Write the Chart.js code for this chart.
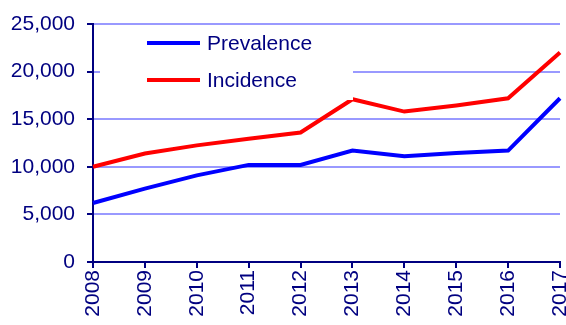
<!DOCTYPE html>
<html>
<head>
<meta charset="utf-8">
<script src="https://cdn.jsdelivr.net/npm/chart.js@4"></script>
<style>
  body { margin: 0; background: #fff; }
  #wrap { width: 566px; height: 325px; }
</style>
</head>
<body>
<div id="wrap"><canvas id="myChart" width="566" height="325"></canvas></div>
<script>
const years = ['2008', '2009', '2010', '2011', '2012', '2013', '2014', '2015', '2016', '2017'];
const prevalence = [6200, 7700, 9100, 10200, 10200, 11700, 11100, 11450, 11700, 17200];
const incidence = [10000, 11400, 12250, 12950, 13600, 17100, 15800, 16450, 17200, 22000];
const yTicks = [0, 5000, 10000, 15000, 20000, 25000];

const navy = '#000080';
const font = "'Liberation Sans', Arial, sans-serif";

// legend sits inside the plot with a white box, like the original
const boxLegend = {
    id: 'boxLegend',
    afterDatasetsDraw(chart) {
        const ctx = chart.ctx;
        const a = chart.chartArea;
        ctx.save();
        ctx.fillStyle = '#fff';
        ctx.fillRect(a.left + 7, a.top + 2, 253, 74);
        chart.data.datasets.forEach((ds, i) => {
            const y = a.top + 19 + i * 37;
            ctx.strokeStyle = ds.borderColor;
            ctx.lineWidth = 4;
            ctx.beginPath();
            ctx.moveTo(a.left + 54, y);
            ctx.lineTo(a.left + 107, y);
            ctx.stroke();
            ctx.fillStyle = navy;
            ctx.font = '21px ' + font;
            ctx.textBaseline = 'middle';
            ctx.fillText(ds.label, a.left + 114, y + 1);
        });
        ctx.restore();
    }
};

const ctx = document.getElementById('myChart').getContext('2d');
const myChart = new Chart(ctx, {
    type: 'line',
    data: {
        labels: years,
        datasets: [{
            label: 'Prevalence',
            data: prevalence,
            borderColor: '#0000ff',
            borderWidth: 4,
            pointRadius: 0,
            tension: 0
        }, {
            label: 'Incidence',
            data: incidence,
            borderColor: '#ff0000',
            borderWidth: 4,
            pointRadius: 0,
            tension: 0
        }]
    },
    options: {
        responsive: false,
        animation: false,
        layout: { padding: { top: 24, right: 6, left: 0, bottom: 0 } },
        plugins: {
            legend: { display: false },
            tooltip: { enabled: false }
        },
        scales: {
            x: {
                offset: false,
                grid: { drawOnChartArea: false, tickColor: navy, tickLength: 6, lineWidth: 2 },
                border: { color: navy, width: 2 },
                ticks: {
                    color: navy, font: { size: 21, family: font },
                    minRotation: 90, maxRotation: 90, padding: 2, autoSkip: false
                },
                afterFit: s => { s.height = 63; s.paddingRight = 0; s.paddingLeft = 0; }
            },
            y: {
                min: 0,
                max: 25000,
                afterBuildTicks: s => { s.ticks = yTicks.map(v => ({ value: v })); },
                grid: { color: '#9999ff', tickColor: navy, tickLength: 6, lineWidth: 2 },
                border: { color: navy, width: 2 },
                ticks: {
                    color: navy, font: { size: 21, family: font }, padding: 12,
                    callback: v => v.toLocaleString('en-US')
                },
                afterFit: s => { s.width = 93; s.paddingTop = 0; s.paddingBottom = 0; }
            }
        }
    },
    plugins: [boxLegend]
});
</script>
</body>
</html>
